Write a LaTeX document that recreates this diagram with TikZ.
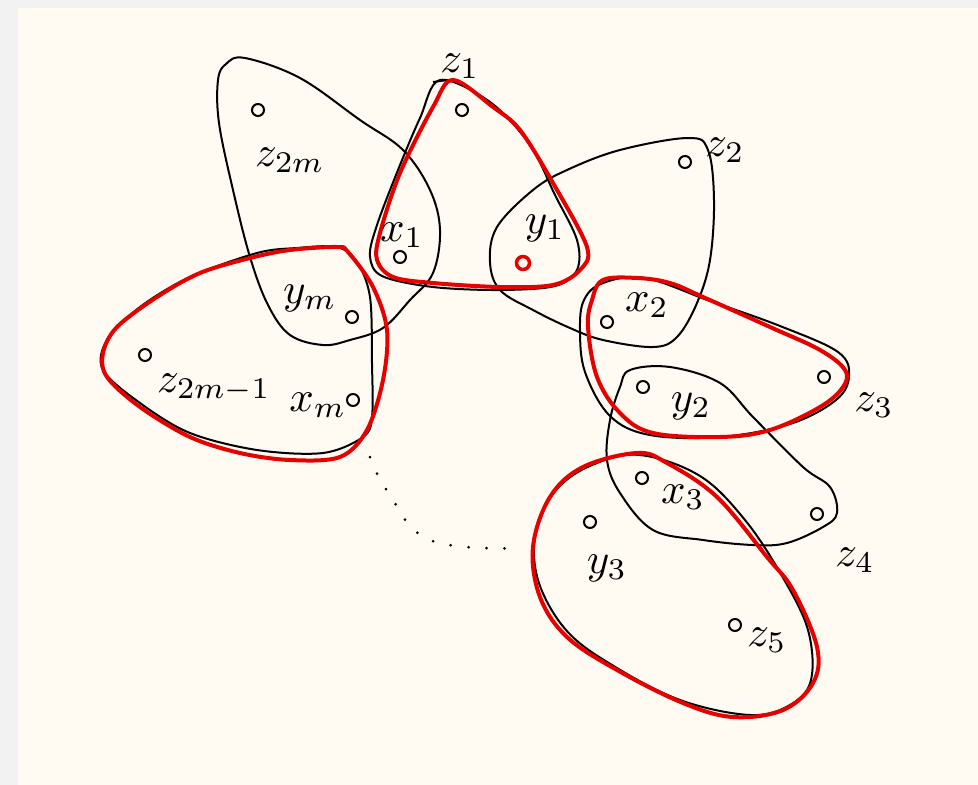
\documentclass[tikz,border=0pt]{standalone}
\usepackage{amsmath,amssymb}
\usepackage{tikz}

\definecolor{paper}{RGB}{255,251,243}
\definecolor{frame}{RGB}{242,242,243}
\definecolor{pen}{RGB}{230,0,0}

\tikzset{
  hedge/.style={draw=black,line width=2pt,line join=round},
  redge/.style={draw=pen,line width=4pt,line join=round},
  vtx/.style={circle,draw=black,line width=2pt,inner sep=0pt,minimum size=12pt},
  lbl/.style={inner sep=0pt}
}
\newcommand{\bigmath}[1]{\scalebox{4.3}{$#1$}}

\begin{document}
\begin{tikzpicture}[x=1pt,y=-1pt]
 \fill[frame] (0,0) rectangle (978,785);
 \fill[paper] (18,8) rectangle (978,785);
 \useasboundingbox (0,0) rectangle (978,785);
 % black edges
 \draw[hedge] plot[smooth cycle,tension=.6] coordinates {
  (245,58) (300,78) (360,120) (403,150) (430,190) (440,230) (433,273) (410,300)
  (383,328) (350,340) (323,345) (290,335) (268,305) (250,257) (233,190) (219,123)
  (218,80) (226,64)};
 \draw[hedge] plot[smooth cycle,tension=.55] coordinates {
  (440,80) (490,102) (530,145) (555,195) (577,240) (577,270) (555,286) (500,290)
  (433,287) (382,276) (370,256) (377,225) (398,170) (420,118)};
 \draw[hedge] (433,82) -- (448,80);
 \draw[hedge] plot[smooth cycle,tension=.6] coordinates {
  (497,227) (533,190) (567,170) (620,150) (688,138) (708,150) (714,200) (710,260)
  (697,303) (677,337) (653,347) (603,340) (570,328) (533,310) (500,290) (490,262)};
 \draw[hedge] plot[smooth cycle,tension=.6] coordinates {
  (584,300) (603,283) (645,278) (710,301) (780,326) (838,352) (849,376) (836,400)
  (790,424) (720,437) (650,435) (610,416) (585,372) (580,330)};
 \draw[hedge] plot[smooth cycle,tension=.6] coordinates {
  (630,370) (670,367) (720,383) (753,417) (803,467) (830,487) (837,513) (823,527)
  (787,543) (753,545) (703,540) (653,530) (620,493) (607,460) (610,420) (620,387)};
 \draw[hedge] plot[smooth cycle,tension=.6] coordinates {
  (640,455) (700,476) (745,520) (782,576) (808,630) (811,680) (790,705) (750,715)
  (680,700) (612,665) (566,630) (538,580) (536,530) (556,490) (592,465)};
 \draw[hedge] plot[smooth cycle,tension=.55] coordinates {
  (337,247) (357,262) (370,297) (372,363) (372,417) (363,437) (323,453) (257,450)
  (190,433) (140,403) (103,370) (107,340) (140,307) (190,277) (257,253) (297,248)};
 % red edges
 \draw[redge] plot[smooth cycle,tension=.55] coordinates {
  (453,80) (493,107) (520,130) (553,183) (587,247) (580,270) (553,285) (500,287)
  (433,283) (393,277) (377,260) (380,233) (400,173) (433,107)};
 \draw[redge] plot[smooth cycle,tension=.6] coordinates {
  (603,280) (637,278) (670,283) (703,297) (770,327) (820,350) (845,370) (843,387)
  (820,407) (770,430) (720,437) (653,433) (620,413) (597,377) (588,327) (592,300)};
 \draw[redge] plot[smooth cycle,tension=.6] coordinates {
  (637,453) (667,463) (717,497) (767,557) (793,590) (817,647) (813,683) (783,710)
  (733,717) (683,703) (617,670) (567,637) (540,597) (533,547) (550,497) (583,467)};
 \draw[redge] plot[smooth cycle,tension=.55] coordinates {
  (337,247) (290,250) (250,258) (200,273) (157,297) (117,327) (103,353) (107,377)
  (140,407) (190,437) (240,453) (290,460) (340,457) (367,430) (383,380) (387,330)
  (373,287) (348,252)};
 % dots between the last edges
 \draw[line width=3pt,line cap=round,dash pattern=on 0pt off 18pt]
  plot[smooth,tension=.7] coordinates {(370,457) (388,492) (430,540) (520,548)};
 % vertices
 \foreach \x/\y/\id in {462/110/z1,258/110/z2m,400/257/x1,685/162/z2,352/317/ym,
   145/355/z2mm,353/400/xm,607/322/x2,824/377/z3,643/387/y2,642/478/x3,
   817/514/z4,590/522/y3,735/625/z5} {
  \node[vtx] (\id) at (\x,\y) {};
 }
 \node[vtx,draw=pen,line width=3.5pt,minimum size=13pt] (y1) at (523,263) {};
 % labels
 \foreach \x/\y/\t/\id in {460/66/z_1/lz1,725/150/z_2/lz2,290/160/z_{2m}/lz2m,
   402/235/x_1/lx1,545/228/y_1/ly1,310/298/y_m/lym,214/388/z_{2m-1}/lz2mm,
   318/405/x_m/lxm,647/305/x_2/lx2,874/405/z_3/lz3,691/406/y_2/ly2,
   683/497/x_3/lx3,855/560/z_4/lz4,607/568/y_3/ly3,767/640/z_5/lz5} {
  \node[lbl] (\id) at (\x,\y) {\bigmath{\t}};
 }
\end{tikzpicture}
\end{document}
